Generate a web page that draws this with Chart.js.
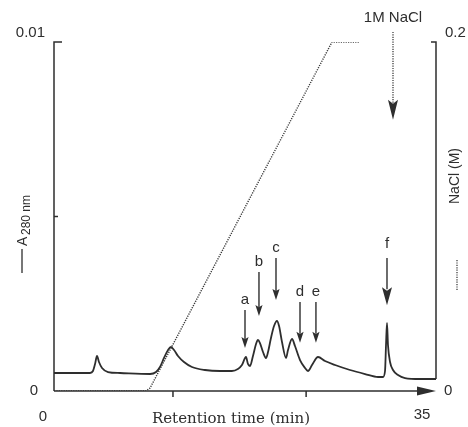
<!DOCTYPE html>
<html>
<head>
<meta charset="utf-8">
<script src="https://cdn.jsdelivr.net/npm/chart.js@4.4.1/dist/chart.umd.min.js"></script>
<style>
	html, body { margin: 0; padding: 0; background: #fff; }
	#chart { display: block; }
</style>
</head>
<body>
<canvas id="chart" width="468" height="427"></canvas>
<script>
	'use strict';

	// A280 trace (retention time in min, absorbance)
	const traceTimes = [0, 3.30, 3.57, 3.76, 3.94, 4.12, 4.40, 4.95, 6.05, 8.80, 9.35, 9.71, 10.08, 10.45, 10.72, 11.00, 11.36, 11.91, 12.64, 13.83, 15.20, 16.30, 16.85, 17.22, 17.59, 17.77, 17.96, 18.23, 18.51, 18.69, 18.87, 19.15, 19.42, 19.61, 19.88, 20.16, 20.43, 20.62, 20.89, 21.26, 21.44, 21.81, 22.08, 22.54, 23.00, 23.27, 23.64, 24.19, 24.83, 25.75, 27.12, 28.50, 29.69, 30.14, 30.33, 30.42, 30.51, 30.60, 30.79, 31.06, 31.52, 32.16, 33.53, 35];
	const traceA280 = [0.000516, 0.000516, 0.000573, 0.000774, 0.001003, 0.000831, 0.000659, 0.000544, 0.000516, 0.000487, 0.000544, 0.000688, 0.000946, 0.001175, 0.001261, 0.001175, 0.001003, 0.000831, 0.000688, 0.000602, 0.000573, 0.000573, 0.000630, 0.000745, 0.000974, 0.000774, 0.000716, 0.001003, 0.001347, 0.001461, 0.001375, 0.001117, 0.000946, 0.001117, 0.001519, 0.001862, 0.002006, 0.001862, 0.001404, 0.000946, 0.001175, 0.001490, 0.001289, 0.000888, 0.000659, 0.000573, 0.000745, 0.000974, 0.000860, 0.000745, 0.000602, 0.000487, 0.000401, 0.000401, 0.000573, 0.001318, 0.001948, 0.001318, 0.000831, 0.000602, 0.000458, 0.000372, 0.000344, 0.000344];

	// NaCl gradient (min, M)
	const naclTimes = [0, 8.43, 8.80, 25.47, 27.94];
	const naclMolar = [0, 0, 0.0017, 0.2, 0.2];

	// peak markers
	const peakLabels = ['a', 'b', 'c', 'd', 'e', 'f'];
	const peakTimes = [17.5, 18.78, 20.34, 22.54, 24.0, 30.51];
	const peakArrowTip = [0.00123, 0.00215, 0.00261, 0.00138, 0.00138, 0.00246];
	const peakArrowTail = [0.00232, 0.00341, 0.00381, 0.00255, 0.00255, 0.00381];

	// 1M NaCl step marker
	const stepLabel = '1M NaCl';
	const stepTime = 31.06;
	const stepArrowTip = 0.00777;
	const stepArrowTail = 0.01029;

	// axis ticks
	const xTickLabels = ['0', '35'];
	const xTickMarks = [10.9, 23.1];
	const yLeftTicks = ['0', '0.01'];
	const yRightTicks = ['0', '0.2'];

	const INK = '#2e2e2e';
	const SANS = '"Liberation Sans", Arial, sans-serif';

	function arrowHead(ctx, x, tipY, halfW, len) {
		ctx.beginPath();
		ctx.moveTo(x, tipY);
		ctx.lineTo(x - halfW, tipY - len);
		ctx.lineTo(x, tipY - len * 0.8);
		ctx.lineTo(x + halfW, tipY - len);
		ctx.closePath();
		ctx.fill();
	}

	const decorPlugin = {
		id: 'decor',
		afterDraw: function (chart) {
			const ctx = chart.ctx;
			const x = chart.scales.x;
			const y = chart.scales.y;
			const y2 = chart.scales.y2;
			const left = x.getPixelForValue(0);
			const right = x.getPixelForValue(35);
			const top = y.getPixelForValue(0.01);
			const base = y.getPixelForValue(0);

			ctx.save();
			ctx.strokeStyle = INK;
			ctx.fillStyle = INK;
			ctx.lineWidth = 1.5;
			ctx.setLineDash([]);

			// left axis
			ctx.beginPath();
			ctx.moveTo(left + 8, top);
			ctx.lineTo(left, top);
			ctx.lineTo(left, base);
			ctx.stroke();
			const mid = y.getPixelForValue(0.005);
			ctx.beginPath();
			ctx.moveTo(left, mid);
			ctx.lineTo(left + 4, mid);
			ctx.stroke();

			// right axis
			const rightBottom = y.getPixelForValue(traceA280[traceA280.length - 1]);
			ctx.beginPath();
			ctx.moveTo(right - 5, y2.getPixelForValue(0.2));
			ctx.lineTo(right, y2.getPixelForValue(0.2));
			ctx.lineTo(right, rightBottom);
			ctx.stroke();

			// time axis with arrow
			ctx.beginPath();
			ctx.moveTo(left, base);
			ctx.lineTo(right - 14, base);
			ctx.stroke();
			ctx.beginPath();
			ctx.moveTo(right, base);
			ctx.lineTo(right - 19, base - 4.5);
			ctx.lineTo(right - 19, base + 4.5);
			ctx.closePath();
			ctx.fill();
			xTickMarks.forEach(function (t) {
				const px = x.getPixelForValue(t);
				ctx.beginPath();
				ctx.moveTo(px, base);
				ctx.lineTo(px, base + 6);
				ctx.stroke();
			});

			// tick labels
			ctx.font = '15px ' + SANS;
			ctx.textBaseline = 'middle';
			ctx.textAlign = 'right';
			ctx.fillText(yLeftTicks[0], left - 16, base);
			ctx.fillText(yLeftTicks[1], left - 9, top - 9);
			ctx.textAlign = 'left';
			ctx.fillText(yRightTicks[0], right + 8, base);
			ctx.fillText(yRightTicks[1], right + 9, top - 9);
			ctx.textAlign = 'center';
			ctx.fillText(xTickLabels[0], left - 11, base + 26);
			ctx.fillText(xTickLabels[1], right - 14, base + 24);

			// x title
			ctx.font = '15px "DejaVu Serif", serif';
			ctx.fillText('Retention time (min)', 231, base + 28);

			// left title: line + A280 nm
			ctx.save();
			ctx.translate(22, 261);
			ctx.rotate(-Math.PI / 2);
			ctx.lineWidth = 1.3;
			ctx.beginPath();
			ctx.moveTo(-12, 0);
			ctx.lineTo(12, 0);
			ctx.stroke();
			ctx.textAlign = 'left';
			ctx.textBaseline = 'alphabetic';
			ctx.font = '14px ' + SANS;
			ctx.fillText('A', 15, 5);
			ctx.font = '12px ' + SANS;
			ctx.fillText('280 nm', 26, 8);
			ctx.restore();

			// right title: NaCl (M) + dotted key
			ctx.save();
			ctx.translate(455, 176);
			ctx.rotate(-Math.PI / 2);
			ctx.textAlign = 'center';
			ctx.font = '14px ' + SANS;
			ctx.fillText('NaCl (M)', 0, 0);
			ctx.restore();
			ctx.save();
			ctx.lineWidth = 1.2;
			ctx.setLineDash([1.2, 1.2]);
			ctx.beginPath();
			ctx.moveTo(457, 260);
			ctx.lineTo(457, 290);
			ctx.stroke();
			ctx.restore();

			// peak arrows
			ctx.font = '15px ' + SANS;
			ctx.textAlign = 'center';
			ctx.textBaseline = 'alphabetic';
			peakLabels.forEach(function (lab, i) {
				const px = x.getPixelForValue(peakTimes[i]);
				const tip = y.getPixelForValue(peakArrowTip[i]);
				const tail = y.getPixelForValue(peakArrowTail[i]);
				const big = lab === 'f';
				const hl = big ? 18 : 11;
				const hw = big ? 5 : 3.6;
				ctx.lineWidth = 1.4;
				ctx.beginPath();
				ctx.moveTo(px, tail);
				ctx.lineTo(px, tip - hl + 2);
				ctx.stroke();
				arrowHead(ctx, px, tip, hw, hl);
				ctx.fillText(lab, px, tail - (big ? 10 : 6));
			});

			// 1M NaCl dotted arrow
			const sx = x.getPixelForValue(stepTime);
			const sTip = y.getPixelForValue(stepArrowTip);
			const sTail = y.getPixelForValue(stepArrowTail);
			ctx.save();
			ctx.lineWidth = 1.2;
			ctx.setLineDash([1.2, 1.2]);
			ctx.beginPath();
			ctx.moveTo(sx, sTail);
			ctx.lineTo(sx, sTip - 16);
			ctx.stroke();
			ctx.restore();
			arrowHead(ctx, sx, sTip, 5, 20);
			ctx.font = '15px ' + SANS;
			ctx.fillText(stepLabel, sx, sTail - 10);

			ctx.restore();
		}
	};

	const ctx = document.getElementById('chart');

	new Chart(ctx, {
		type: 'line',
		data: {
			datasets: [
				{
					label: 'A280',
					data: traceTimes.map((t, i) => ({ x: t, y: traceA280[i] })),
					yAxisID: 'y',
					borderColor: INK,
					borderWidth: 1.8,
					pointRadius: 0,
					cubicInterpolationMode: 'monotone',
					fill: false
				},
				{
					label: 'NaCl',
					data: naclTimes.map((t, i) => ({ x: t, y: naclMolar[i] })),
					yAxisID: 'y2',
					borderColor: '#3a3a3a',
					borderWidth: 1.4,
					borderDash: [1.2, 1.2],
					pointRadius: 0,
					tension: 0,
					fill: false
				}
			]
		},
		options: {
			responsive: false,
			animation: false,
			layout: {
				padding: { left: 54, right: 32, top: 42, bottom: 36 }
			},
			plugins: {
				legend: { display: false },
				tooltip: { enabled: false }
			},
			scales: {
				x: { type: 'linear', min: 0, max: 35, display: false },
				y: { min: 0, max: 0.01, display: false },
				y2: { min: 0, max: 0.2, display: false, position: 'right' }
			}
		},
		plugins: [decorPlugin]
	});
</script>
</body>
</html>
